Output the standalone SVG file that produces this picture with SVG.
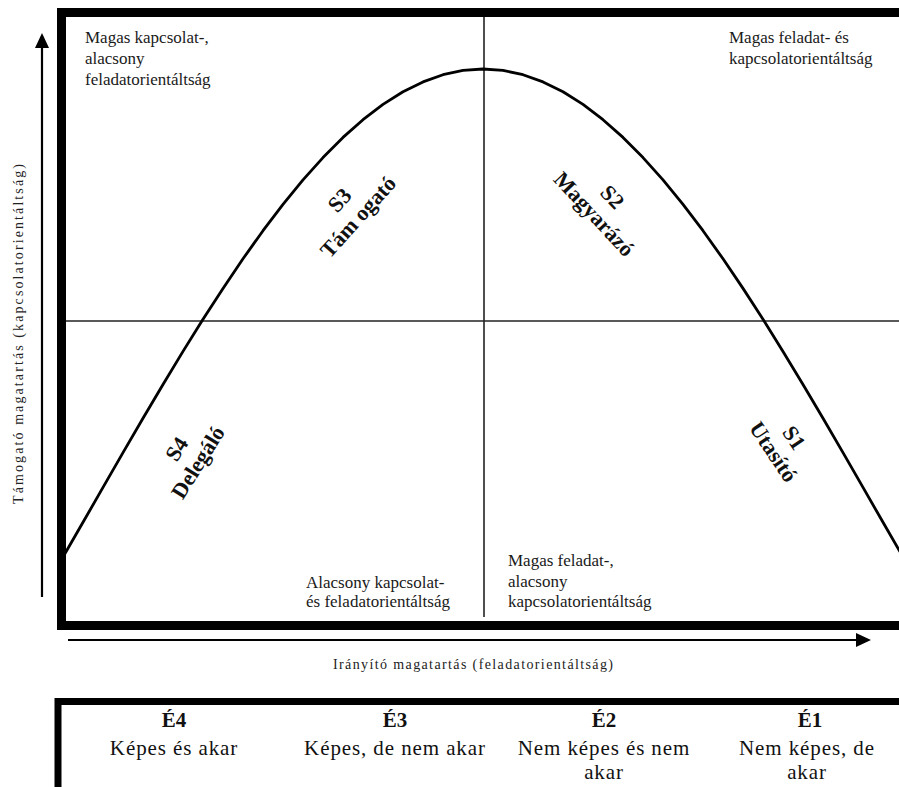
<svg xmlns="http://www.w3.org/2000/svg" width="899" height="787" viewBox="0 0 899 787">
  <style>
    .q { font-family: "Liberation Serif", "Times New Roman", serif; font-size: 17px; fill: #1a1a1a; }
    .s { font-family: "Liberation Serif", "Times New Roman", serif; font-size: 22px; font-weight: bold; fill: #111; text-anchor: middle; }
    .ax { font-family: "Liberation Serif", "Times New Roman", serif; font-size: 14px; fill: #222; text-anchor: middle; }
    .th { font-family: "Liberation Serif", "Times New Roman", serif; font-size: 21px; font-weight: bold; fill: #111; text-anchor: middle; }
    .td { font-family: "Liberation Serif", "Times New Roman", serif; font-size: 21px; fill: #111; text-anchor: middle; letter-spacing: 0.9px; }
    .thin { stroke: #222; stroke-width: 1.6; fill: none; }
    .arrow { stroke: #000; stroke-width: 2.2; fill: none; }
  </style>
  <defs>
    <marker id="ah" viewBox="0 0 15 14" refX="12" refY="7" markerWidth="15" markerHeight="14" markerUnits="userSpaceOnUse" orient="auto">
      <path d="M0,0 L15,7 L0,14 z" fill="#000"/>
    </marker>
  </defs>
  <rect width="899" height="787" fill="#fff"/>

  <g id="dividers">
    <line class="thin" x1="484" y1="17" x2="484" y2="617"/>
    <line class="thin" x1="66" y1="321" x2="899" y2="321"/>
  </g>

  <g id="curve">
    <path d="M63,557 L83,522.3 L103,487.4 L123,452.6 L143,418.3 L163,384.5 L183,351.4 L203,319.3 L223,288.4 L243,258.8 L263,230.7 L283,204.4 L303,179.9 L323,157.6 L343,137.4 L363,119.7 L383,104.4 L403,91.8 L423,81.9 L443,74.7 L463,70.4 L483,69 L503,70.4 L523,74.7 L543,81.9 L563,91.8 L583,104.4 L603,119.7 L623,137.4 L643,157.6 L663,179.9 L683,204.4 L703,230.7 L723,258.8 L743,288.4 L763,319.3 L783,351.4 L803,384.5 L823,418.3 L843,452.6 L863,487.4 L883,522.3 L903,557" fill="none" stroke="#000" stroke-width="2.8" stroke-linejoin="round"/>
  </g>

  <g id="frame">
    <rect x="61.5" y="12.5" width="900" height="613" fill="none" stroke="#000" stroke-width="9"/>
  </g>

  <g id="connectors">
    <line class="arrow" x1="42" y1="597" x2="42" y2="36" marker-end="url(#ah)"/>
    <line class="arrow" x1="68" y1="640" x2="868" y2="640" marker-end="url(#ah)"/>
  </g>

  <g id="axis-y-label">
    <text class="ax" transform="translate(23,334) rotate(-90)" textLength="340" lengthAdjust="spacing">Támogató magatartás (kapcsolatorientáltság)</text>
  </g>
  <g id="axis-x-label">
    <text class="ax" x="473" y="669" textLength="280" lengthAdjust="spacing">Irányító magatartás (feladatorientáltság)</text>
  </g>

  <g id="q-top-left">
    <text class="q" x="85" y="43">Magas kapcsolat-,</text>
    <text class="q" x="85" y="64">alacsony</text>
    <text class="q" x="85" y="85">feladatorientáltság</text>
  </g>
  <g id="q-top-right">
    <text class="q" x="729" y="43">Magas feladat- és</text>
    <text class="q" x="729" y="64">kapcsolatorientáltság</text>
  </g>
  <g id="q-bottom-left">
    <text class="q" x="306" y="588">Alacsony kapcsolat-</text>
    <text class="q" x="306" y="607">és feladatorientáltság</text>
  </g>
  <g id="q-bottom-right">
    <text class="q" x="508" y="566">Magas feladat-,</text>
    <text class="q" x="508" y="587">alacsony</text>
    <text class="q" x="508" y="607">kapcsolatorientáltság</text>
  </g>

  <g id="style-s3" transform="translate(345,205) rotate(-48)">
    <text class="s" x="0" y="0">S3</text>
    <text class="s" x="0" y="25">Tám ogató</text>
  </g>
  <g id="style-s2" transform="translate(607,202) rotate(47)">
    <text class="s" x="0" y="0">S2</text>
    <text class="s" x="0" y="25">Magyarázó</text>
  </g>
  <g id="style-s4" transform="translate(183,453) rotate(-58)">
    <text class="s" x="0" y="0">S4</text>
    <text class="s" x="0" y="25">Delegáló</text>
  </g>
  <g id="style-s1" transform="translate(788,442) rotate(56)">
    <text class="s" x="0" y="0">S1</text>
    <text class="s" x="0" y="25">Utasító</text>
  </g>

  <g id="table">
    <rect x="58" y="701.5" width="900" height="89" fill="none" stroke="#000" stroke-width="7"/>
  </g>
  <g id="cell-e4">
    <text class="th" x="174" y="727">É4</text>
    <text class="td" x="174" y="755">Képes és akar</text>
  </g>
  <g id="cell-e3">
    <text class="th" x="395" y="727">É3</text>
    <text class="td" x="395" y="755">Képes, de nem akar</text>
  </g>
  <g id="cell-e2">
    <text class="th" x="604" y="727">É2</text>
    <text class="td" x="604" y="755">Nem képes és nem</text>
    <text class="td" x="604" y="779">akar</text>
  </g>
  <g id="cell-e1">
    <text class="th" x="810" y="727">É1</text>
    <text class="td" x="807" y="755">Nem képes, de</text>
    <text class="td" x="807" y="779">akar</text>
  </g>
</svg>
